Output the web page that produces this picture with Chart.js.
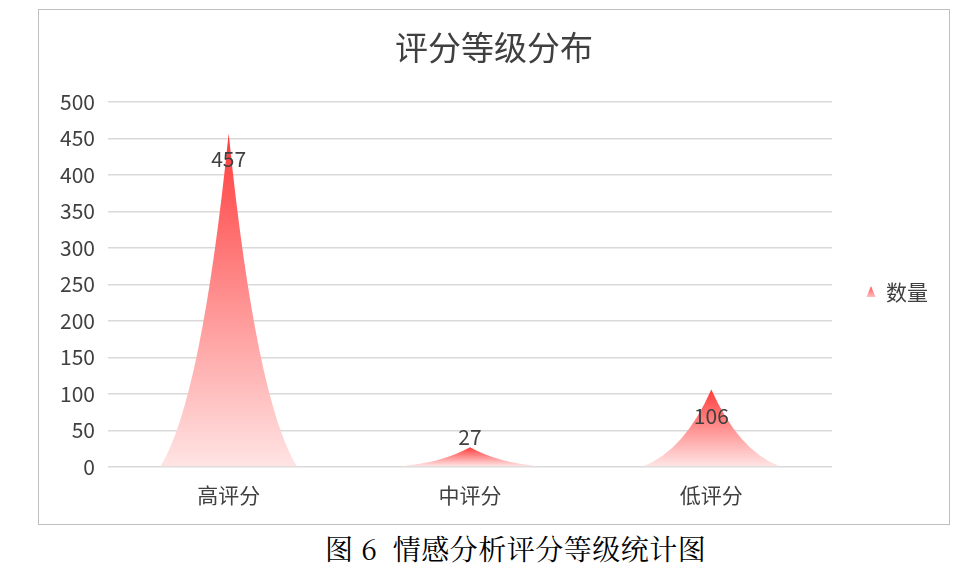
<!DOCTYPE html>
<html>
<head>
<meta charset="utf-8">
<script src="https://cdn.jsdelivr.net/npm/chart.js@4.4.1/dist/chart.umd.min.js"></script>
<style>
    body { margin: 0; background: #fff; }
    #box { position: absolute; left: 38px; top: 9px; width: 910px; height: 514px; border: 1px solid #bfbfbf; }
    #caption { position: absolute; left: 325px; top: 528px; white-space: pre; letter-spacing: 0.5px;
        font-family: "Noto Serif CJK SC", "Noto Sans CJK SC", serif; font-size: 28px; color: #000; }
</style>
</head>
<body>
<div id="box"><canvas id="ratingChart" width="910" height="514"></canvas></div>
<div id="caption">图 6  情感分析评分等级统计图</div>
<script>
const categories = ['高评分', '中评分', '低评分'];
const counts = [457, 27, 106];
const seriesName = '数量';
const chartTitle = '评分等级分布';
const yTicks = [0, 50, 100, 150, 200, 250, 300, 350, 400, 450, 500];

const fontFamily = '"Noto Sans CJK SC", "Noto Sans", sans-serif';
const textColor = '#404040';

// draw each bar as a pointed spike with concave sides, plus title and legend
const spikePlugin = {
    id: 'spikes',
    afterDatasetsDraw(chart) {
        const ctx = chart.ctx;
        const meta = chart.getDatasetMeta(0);
        meta.data.forEach((bar, i) => {
            const { x, y, base, width } = bar.getProps(['x', 'y', 'base', 'width'], true);
            const hw = width / 2;
            const h = base - y;
            const grad = ctx.createLinearGradient(0, y, 0, base);
            grad.addColorStop(0, 'rgba(255, 60, 60, 1)');
            grad.addColorStop(1, 'rgba(255, 228, 228, 1)');
            ctx.save();
            ctx.beginPath();
            ctx.moveTo(x - hw, base);
            ctx.quadraticCurveTo(x - hw * 0.4, base - h * 0.2, x, y);
            ctx.quadraticCurveTo(x + hw * 0.4, base - h * 0.2, x + hw, base);
            ctx.closePath();
            ctx.fillStyle = grad;
            ctx.fill();

            // value label
            ctx.font = '21px ' + fontFamily;
            ctx.fillStyle = textColor;
            ctx.textAlign = 'center';
            ctx.textBaseline = 'middle';
            const ly = h > 40 ? y + 26 : y - 10;
            ctx.fillText(String(counts[i]), x, ly);
            ctx.restore();
        });

        // title, centred on the whole chart box
        ctx.save();
        ctx.font = '33px ' + fontFamily;
        ctx.fillStyle = textColor;
        ctx.textAlign = 'center';
        ctx.textBaseline = 'middle';
        ctx.fillText(chartTitle, chart.width / 2, 37);
        ctx.restore();

        // legend on the right
        const lx = 832, lyc = 282;
        ctx.save();
        const lg = ctx.createLinearGradient(0, lyc - 5, 0, lyc + 5);
        lg.addColorStop(0, 'rgba(255, 90, 90, 1)');
        lg.addColorStop(1, 'rgba(255, 190, 190, 1)');
        ctx.beginPath();
        ctx.moveTo(lx, lyc - 6);
        ctx.lineTo(lx + 4.5, lyc + 5);
        ctx.lineTo(lx - 4.5, lyc + 5);
        ctx.closePath();
        ctx.fillStyle = lg;
        ctx.fill();
        ctx.font = '21px ' + fontFamily;
        ctx.fillStyle = textColor;
        ctx.textAlign = 'left';
        ctx.textBaseline = 'middle';
        ctx.fillText(seriesName, lx + 15, lyc);
        ctx.restore();
    }
};

const ctx = document.getElementById('ratingChart').getContext('2d');
new Chart(ctx, {
    type: 'bar',
    data: {
        labels: categories,
        datasets: [{
            label: seriesName,
            data: counts,
            backgroundColor: 'rgba(0,0,0,0)',
            borderWidth: 0,
            categoryPercentage: 1,
            barPercentage: 0.565
        }]
    },
    options: {
        responsive: false,
        animation: false,
        layout: { padding: { left: 0, right: 117, top: 92, bottom: 0 } },
        plugins: {
            legend: { display: false },
            tooltip: { enabled: false },
            title: { display: false }
        },
        scales: {
            x: {
                grid: { display: false },
                border: { display: false },
                ticks: { color: textColor, font: { family: fontFamily, size: 21 }, padding: 7 },
                afterFit(scale) { scale.height = 57; }
            },
            y: {
                min: 0,
                max: 500,
                afterBuildTicks(scale) { scale.ticks = yTicks.map(v => ({ value: v })); },
                grid: { color: '#d9d9d9', lineWidth: 1.5, drawTicks: false },
                border: { display: false },
                ticks: { color: textColor, font: { family: fontFamily, size: 21 }, padding: 13 },
                afterFit(scale) { scale.width = 69; }
            }
        }
    },
    plugins: [spikePlugin]
});
</script>
</body>
</html>
